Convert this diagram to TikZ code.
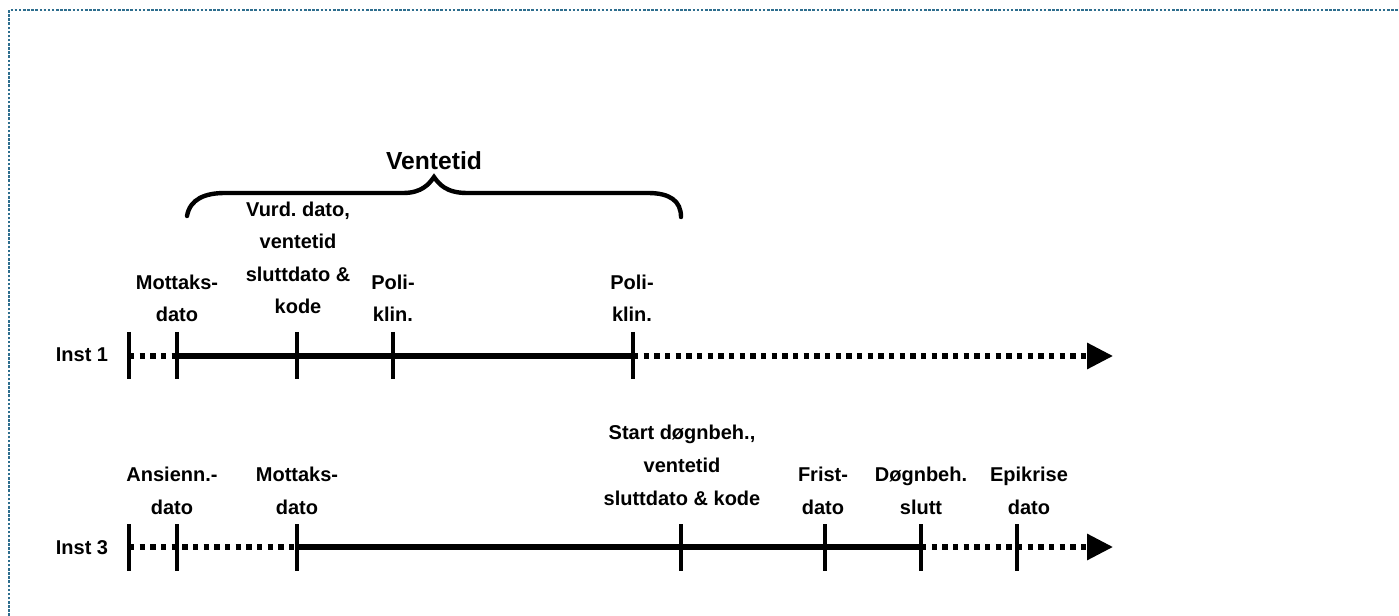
\documentclass[tikz,border=0pt]{standalone}
\usepackage{fontspec}
\setmainfont{Liberation Sans}
\usetikzlibrary{arrows.meta}
\definecolor{frame}{RGB}{46,110,142}
\frenchspacing
\begin{document}
\begin{tikzpicture}[x=0.75pt,y=-0.75pt,
  lbl/.style={font=\bfseries\fontsize{15}{24.4}\selectfont,align=center,anchor=base,inner sep=0pt},
  inst/.style={font=\bfseries\fontsize{15}{24.4}\selectfont,anchor=base,inner sep=0pt},
  tick/.style={line width=3.7pt},
  solidseg/.style={line width=3.9pt},
  dotseg/.style={line width=3.9pt,dash pattern=on 3.9pt off 4.1pt},
  arrowseg/.style={dotseg,-{Triangle[length=19.5pt,width=19pt]}},
  bracestyle/.style={line width=3.3pt,line cap=round}]
\useasboundingbox (0,0) rectangle (1399,616);
% frame
\draw[frame,line width=1.9pt,dash pattern=on 1.9pt off 1.2pt] (9,616) -- (9,10) -- (1399,10);

% ----- Inst 1 -----
\node[inst] (i1) at (82,362) {Inst 1};
\foreach \n/\x in {a/129,b/177,c/297,d/393,e/633}{
  \coordinate (p1\n) at (\x,356);
  \coordinate (p1\n t) at (\x,332);
  \coordinate (p1\n b) at (\x,379);
  \draw[tick] (p1\n t) -- (p1\n b);
}
\coordinate (p1end) at (1113,356);
\draw[dotseg] (p1a) -- (p1b);
\draw[solidseg] (p1b) -- (p1e);
\draw[arrowseg] (p1e) -- (p1end);

\node[lbl] (l1b) at (177,322) {Mottaks-\\dato};
\node[lbl] (l1c) at (298,314) {Vurd. dato,\\ventetid\\sluttdato \&\\kode};
\node[lbl] (l1d) at (393,322) {Poli-\\klin.};
\node[lbl] (l1e) at (632,322) {Poli-\\klin.};

% brace
\coordinate (brL) at (187,216);
\coordinate (brT) at (434,177);
\coordinate (brR) at (681,217);
\draw[bracestyle] (brL) .. controls (190,199) and (205,193) .. (225,193)
  -- (403,193) .. controls (422,193) and (429,184) .. (brT)
  .. controls (439,184) and (446,193) .. (467,193)
  -- (648,193) .. controls (670,193) and (681,201) .. (brR);
\node[font=\bfseries\fontsize{18.5}{22}\selectfont,anchor=base,inner sep=0pt] (vt) at (434,170) {Ventetid};

% ----- Inst 3 -----
\node[inst] (i3) at (82,554) {Inst 3};
\foreach \n/\x in {a/129,b/177,c/297,d/681,e/825,f/921,g/1017}{
  \coordinate (p3\n) at (\x,547);
  \coordinate (p3\n t) at (\x,524);
  \coordinate (p3\n b) at (\x,571);
  \draw[tick] (p3\n t) -- (p3\n b);
}
\coordinate (p3end) at (1113,547);
\draw[dotseg] (p3a) -- (p3c);
\draw[solidseg] (p3c) -- (p3f);
\draw[arrowseg] (p3f) -- (p3end);

\node[lbl] (l3b) at (172,514) {Ansienn.-\\dato};
\node[lbl] (l3c) at (297,514) {Mottaks-\\dato};
\node[lbl] (l3d) at (682,505) {Start døgnbeh.,\\ventetid\\sluttdato \& kode};
\node[lbl] (l3e) at (823,514) {Frist-\\dato};
\node[lbl] (l3f) at (921,514) {Døgnbeh.\\slutt};
\node[lbl] (l3g) at (1029,514) {Epikrise\\dato};
\end{tikzpicture}
\end{document}
